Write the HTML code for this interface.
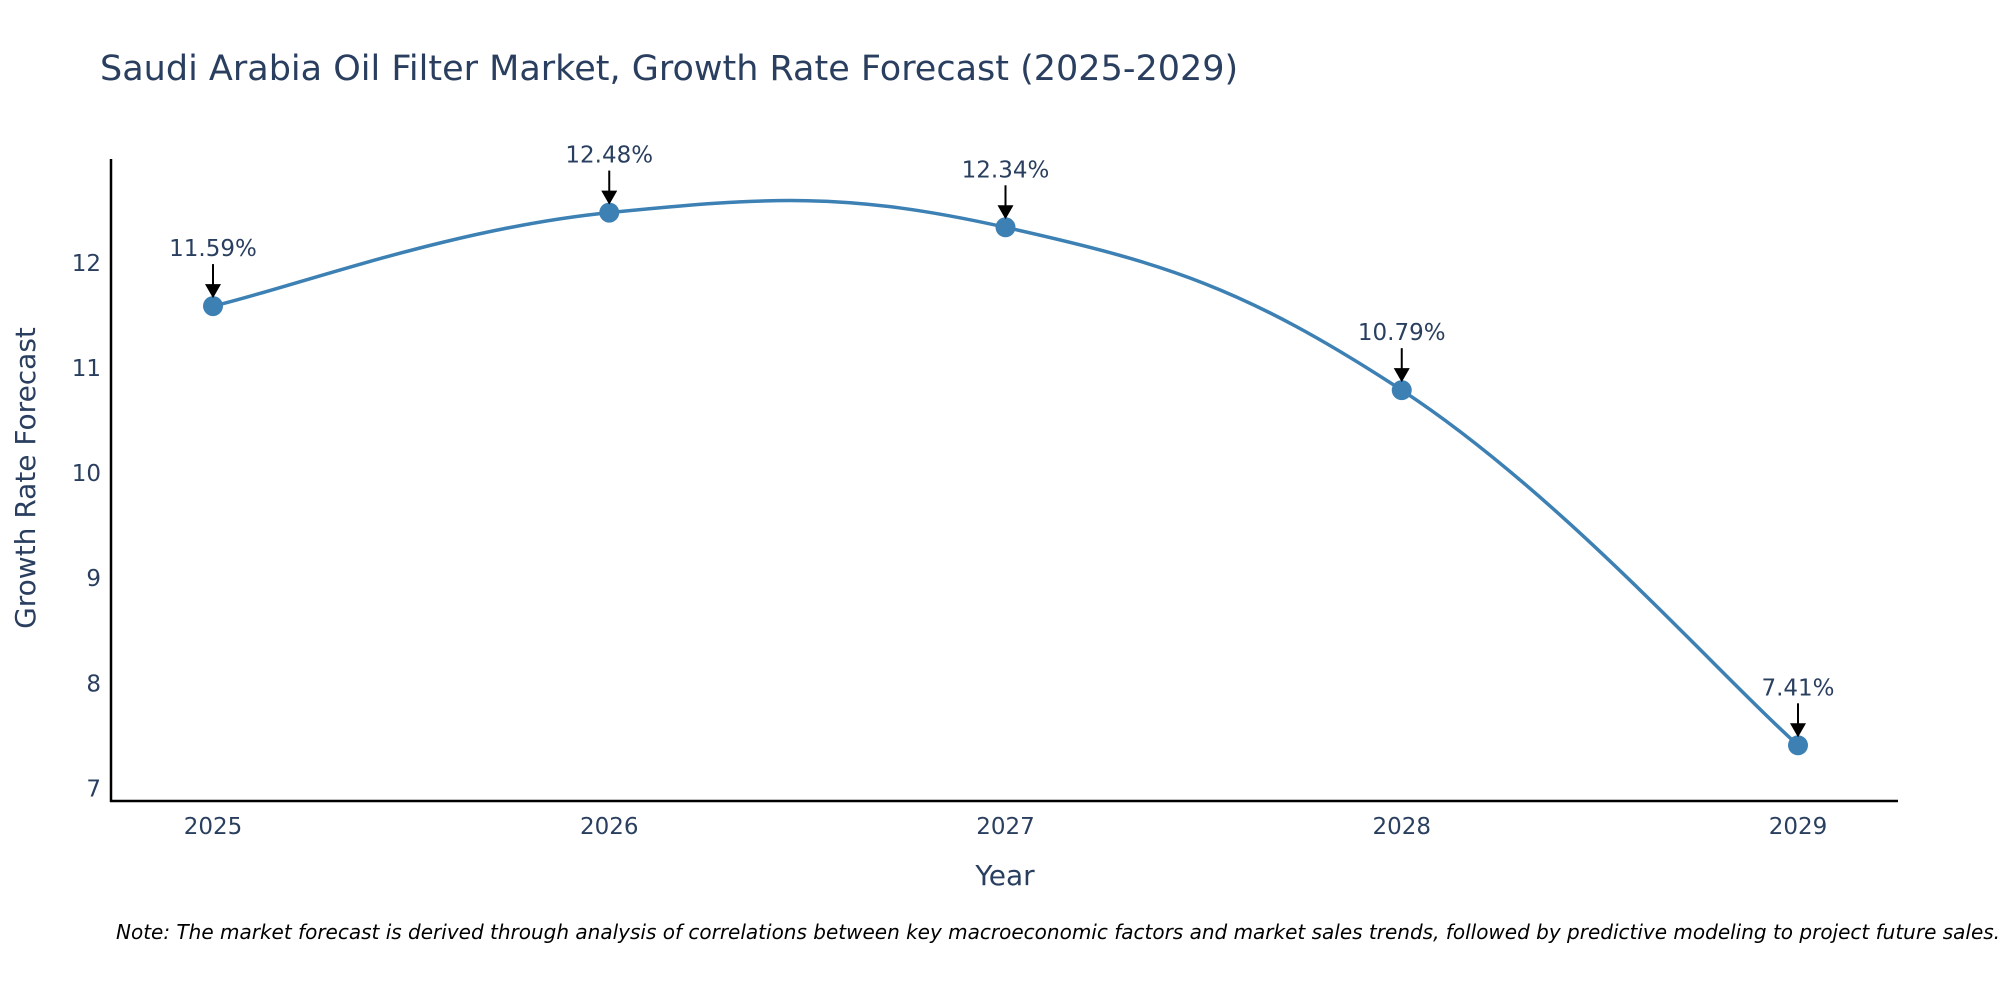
<!DOCTYPE html>
<html><head><meta charset="utf-8">
<style>
body{margin:0;background:#fff;overflow:hidden;}
svg text{font-family:"DejaVu Sans","Liberation Sans",sans-serif;}
</style></head>
<body>
<svg id="chart" width="2000" height="1000" xmlns="http://www.w3.org/2000/svg">
<text x="100" y="80" font-size="35" fill="#2a3f5f">Saudi Arabia Oil Filter Market, Growth Rate Forecast (2025-2029)</text>
<g id="plot"></g>
<text x="1005" y="885" font-size="28" fill="#2a3f5f" text-anchor="middle">Year</text>
<text transform="translate(35,478) rotate(-90)" font-size="28" fill="#2a3f5f" text-anchor="middle">Growth Rate Forecast</text>
<text x="116" y="939" font-size="20" font-style="italic" fill="#000">Note: The market forecast is derived through analysis of correlations between key macroeconomic factors and market sales trends, followed by predictive modeling to project future sales.</text>
</svg>
<script>
const years = ["2025","2026","2027","2028","2029"];
const growth = [11.59, 12.48, 12.34, 10.79, 7.41];
const labels = ["11.59%","12.48%","12.34%","10.79%","7.41%"];
const yTicks = [7, 8, 9, 10, 11, 12];

const NS = "http://www.w3.org/2000/svg";
const g = document.getElementById('plot');
const L = 111, R = 1898, T = 159, B = 801;
const yMin = 6.88, yMax = 12.99;
const x0 = 213, x1 = 1798;
function xs(i){ return x0 + (x1 - x0) * i / (years.length - 1); }
function ys(v){ return B - (v - yMin) / (yMax - yMin) * (B - T); }
function mk(tag, attrs){ const e = document.createElementNS(NS, tag); for (const k in attrs) e.setAttribute(k, attrs[k]); g.appendChild(e); return e; }

let ax = mk('line',{x1:L,y1:T,x2:L,y2:B+1,stroke:'#000','stroke-width':2.5});


ax = mk('line',{x1:L-1,y1:B,x2:R,y2:B,stroke:'#000','stroke-width':2.5});



yTicks.forEach(v=>{
  const t = mk('text',{x:L-10,y:ys(v)+8,'font-size':23,fill:'#2a3f5f','text-anchor':'end'});
  t.textContent = v;
  
  
});
years.forEach((yr,i)=>{
  const t = mk('text',{x:xs(i),y:834,'font-size':23,fill:'#2a3f5f','text-anchor':'middle'});
  t.textContent = yr;
  
  
});

const pts = growth.map((v,i)=>[xs(i),ys(v)]);
let d = `M${pts[0][0]},${pts[0][1]}`;
const s = 0.2;
for (let i=0;i<pts.length-1;i++){
  const p0 = pts[Math.max(0,i-1)], p1 = pts[i], p2 = pts[i+1], p3 = pts[Math.min(pts.length-1,i+2)];
  const c1 = [p1[0]+(p2[0]-p0[0])*s, p1[1]+(p2[1]-p0[1])*s];
  const c2 = [p2[0]-(p3[0]-p1[0])*s, p2[1]-(p3[1]-p1[1])*s];
  d += ` C${c1[0]},${c1[1]} ${c2[0]},${c2[1]} ${p2[0]},${p2[1]}`;
}
const line = mk('path',{d:d,fill:'none',stroke:'#3c80b4','stroke-width':3.5});



pts.forEach((p,i)=>{
  const c = mk('circle',{cx:p[0],cy:p[1],r:10,fill:'#3c80b4'});
  
  
  const a = mk('line',{x1:p[0],y1:p[1]-42,x2:p[0],y2:p[1]-20,stroke:'#000','stroke-width':2});
  
  
  const h = mk('polygon',{points:`${p[0]-8},${p[1]-22} ${p[0]+8},${p[1]-22} ${p[0]},${p[1]-8}`,fill:'#000'});
  
  
  const t = mk('text',{x:p[0],y:p[1]-50,'font-size':23,fill:'#2a3f5f','text-anchor':'middle'});
  t.textContent = labels[i];
  
  
});
</script>
</body></html>
